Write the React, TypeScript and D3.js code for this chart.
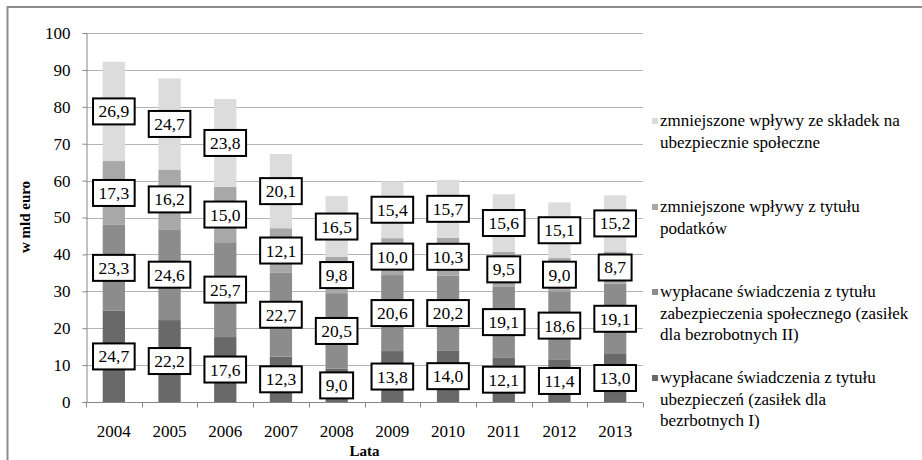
import * as d3 from "d3";
import { useEffect, useRef } from "react";

const years = ["2004", "2005", "2006", "2007", "2008", "2009", "2010", "2011", "2012", "2013"];

// bottom to top
const benefitsInsurance = [24.7, 22.2, 17.6, 12.3, 9.0, 13.8, 14.0, 12.1, 11.4, 13.0];
const benefitsSocial = [23.3, 24.6, 25.7, 22.7, 20.5, 20.6, 20.2, 19.1, 18.6, 19.1];
const taxLoss = [17.3, 16.2, 15.0, 12.1, 9.8, 10.0, 10.3, 9.5, 9.0, 8.7];
const contributionLoss = [26.9, 24.7, 23.8, 20.1, 16.5, 15.4, 15.7, 15.6, 15.1, 15.2];

const yTicks = [0, 10, 20, 30, 40, 50, 60, 70, 80, 90, 100];

const seriesNames = [
  ["wypłacane świadczenia z tytułu", "ubezpieczeń (zasiłek dla", "bezrbotnych I)"],
  ["wypłacane świadczenia z tytułu", "zabezpieczenia społecznego (zasiłek", "dla bezrobotnych II)"],
  ["zmniejszone wpływy z tytułu", "podatków"],
  ["zmniejszone wpływy ze składek na", "ubezpiecznie społeczne"],
];

const colors = ["#696969", "#8c8c8c", "#a8a8a8", "#dcdcdc"];

const App = () => {
  const ref = useRef<SVGSVGElement>(null);

  useEffect(() => {
    const svg = d3.select(ref.current);
    svg.selectAll("*").remove();
    const font = "Liberation Serif, DejaVu Serif, Times New Roman, serif";

    const left = 86;
    const right = 643;
    const top = 33;
    const bottom = 402;

    const x = d3.scaleBand().domain(years).range([left, right]).paddingInner(0.6).paddingOuter(0.3);
    const xOuter = d3.scaleBand().domain(years).range([left, right]);
    const y = d3.scaleLinear().domain([0, 100]).range([bottom, top]);

    const series = [benefitsInsurance, benefitsSocial, taxLoss, contributionLoss];
    const rows = years.map((yr, i) => ({
      year: yr,
      s0: series[0][i],
      s1: series[1][i],
      s2: series[2][i],
      s3: series[3][i],
    }));
    const stacked = d3.stack<any>().keys(["s0", "s1", "s2", "s3"])(rows);

    // frame
    svg.append("line").attr("x1", 7).attr("x2", 922).attr("y1", 7).attr("y2", 7)
      .attr("stroke", "#8c8c8c").attr("stroke-width", 2);
    svg.append("line").attr("x1", 7.5).attr("x2", 7.5).attr("y1", 6).attr("y2", 460)
      .attr("stroke", "#8c8c8c").attr("stroke-width", 2);

    // gridlines
    svg.append("g").selectAll("line").data(yTicks.slice(1)).join("line")
      .attr("x1", left).attr("x2", right)
      .attr("y1", (d) => Math.round(y(d)) + 0.5).attr("y2", (d) => Math.round(y(d)) + 0.5)
      .attr("stroke", "#b4b4b4");

    // y axis
    const yAxis = svg.append("g").attr("transform", `translate(${left + 0.5},0)`)
      .call(d3.axisLeft(y).tickValues(yTicks).tickSize(4).tickPadding(12).tickFormat(d3.format("d")));
    yAxis.select(".domain").attr("stroke", "#868686");
    yAxis.selectAll(".tick line").attr("stroke", "#868686");
    yAxis.selectAll("text").attr("fill", "#000").style("font-family", font).style("font-size", "17px");
    yAxis.attr("font-family", null).attr("font-size", null);

    // bars
    stacked.forEach((layer, li) => {
      svg.append("g").selectAll("rect").data(layer).join("rect")
        .attr("x", (d: any) => x(d.data.year)!)
        .attr("width", x.bandwidth())
        .attr("y", (d) => y(d[1]))
        .attr("height", (d) => y(d[0]) - y(d[1]))
        .attr("fill", colors[li]);
    });

    // x axis
    const xAxisG = svg.append("g").attr("transform", `translate(0,${bottom + 0.5})`);
    xAxisG.append("line").attr("x1", left).attr("x2", right).attr("stroke", "#868686");
    xAxisG.selectAll("line.tk").data(d3.range(years.length + 1)).join("line")
      .attr("class", "tk")
      .attr("x1", (i) => Math.round(left + i * xOuter.step()) + 0.5)
      .attr("x2", (i) => Math.round(left + i * xOuter.step()) + 0.5)
      .attr("y1", 0).attr("y2", 5).attr("stroke", "#868686");
    xAxisG.selectAll("text").data(years).join("text")
      .attr("x", (d) => xOuter(d)! + xOuter.bandwidth() / 2)
      .attr("y", 34)
      .attr("text-anchor", "middle")
      .style("font-family", font).style("font-size", "17px")
      .text((d) => d);

    // value labels
    const lblG = svg.append("g");
    stacked.forEach((layer) => {
      layer.forEach((d: any, i) => {
        const v = series[layer.index][i];
        const cx = x(d.data.year)! + x.bandwidth() / 2;
        const cy = (y(d[0]) + y(d[1])) / 2;
        const g = lblG.append("g");
        const rect = g.append("rect").attr("fill", "#fff").attr("stroke", "#000").attr("stroke-width", 2);
        const t = g.append("text")
          .attr("x", cx).attr("y", cy + 6)
          .attr("text-anchor", "middle")
          .style("font-family", font).style("font-size", "17.5px")
          .text(d3.format(".1f")(v).replace(".", ","));
        const w = (t.node() as SVGTextElement).getComputedTextLength() + 11;
        rect.attr("x", cx - w / 2).attr("y", cy - 13).attr("width", w).attr("height", 26);
      });
    });

    // axis titles
    svg.append("text")
      .attr("transform", `translate(30,217) rotate(-90)`)
      .attr("text-anchor", "middle")
      .style("font-family", font).style("font-size", "15px").style("font-weight", "bold")
      .text("w mld euro");
    svg.append("text")
      .attr("x", (left + right) / 2).attr("y", 456)
      .attr("text-anchor", "middle")
      .style("font-family", font).style("font-size", "15px").style("font-weight", "bold")
      .text("Lata");

    // legend (top entry first)
    const legendTops = [121, 207, 292, 378];
    const order = [3, 2, 1, 0];
    order.forEach((si, k) => {
      const yc = legendTops[k];
      svg.append("rect").attr("x", 652).attr("y", yc - 3).attr("width", 6).attr("height", 6).attr("fill", colors[si]);
      seriesNames[si].forEach((line, li) => {
        svg.append("text")
          .attr("x", 660).attr("y", yc + 5 + li * 21.5)
          .style("font-family", font).style("font-size", "17px")
          .text(line);
      });
    });
  }, []);

  return (
    <svg
      ref={ref}
      width={922}
      height={460}
      style={{ position: "fixed", left: 0, top: 0, background: "#fff" }}
    />
  );
};

export default App;
